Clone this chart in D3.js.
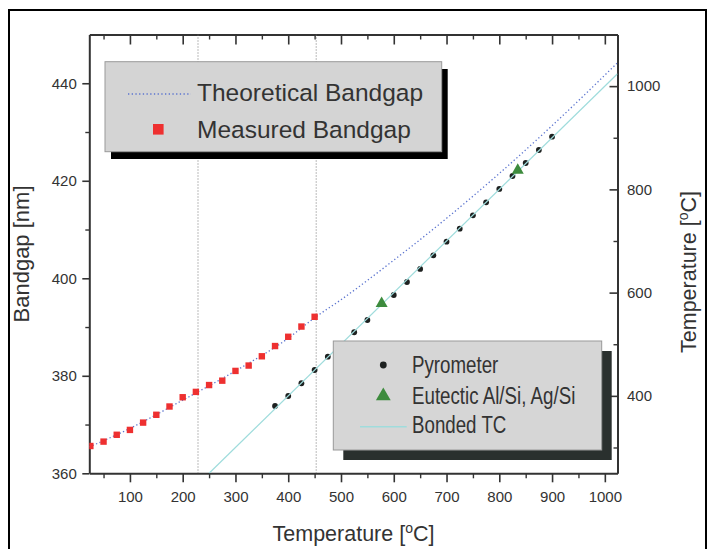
<!DOCTYPE html>
<html><head><meta charset="utf-8">
<script src="https://cdn.jsdelivr.net/npm/d3@7/dist/d3.min.js"></script>
<style>
html,body{margin:0;padding:0;background:#fff;}
svg{display:block;font-family:"Liberation Sans",Arial,Helvetica,sans-serif;}
</style></head><body>
<svg id="chart" width="711" height="549"></svg>
<script>
// ---------- data ----------
const measuredTemps = [25, 50, 75, 100, 125, 150, 175, 200, 225, 250, 275, 300, 325, 350, 375, 400, 425, 450];
const measuredBandgap = [365.6, 366.5, 367.9, 368.9, 370.4, 372.0, 373.7, 375.6, 376.7, 378.1, 379.0, 381.0, 382.1, 384.0, 386.1, 388.0, 390.1, 392.1];

const theoryTemps = [23, 100, 200, 300, 400, 450, 500, 600, 700, 800, 900, 1024];
const theoryBandgap = [365.4, 369.2, 375.0, 381.0, 387.7, 391.9, 395.6, 403.7, 412.3, 421.5, 431.3, 444.2];

const pyroTemps = [375, 400, 425, 450, 475, 500, 525, 550, 600, 625, 650, 675, 700, 725, 750, 775, 800, 825, 850, 875, 900];
const pyroValues = [380.4, 399.7, 424.4, 450.1, 475.9, 500.0, 523.2, 547.0, 595.4, 620.6, 645.8, 672.3, 698.7, 723.9, 749.8, 775.0, 800.8, 825.9, 851.1, 876.3, 902.1];

const eutecticTemps = [577, 835];
const eutecticValues = [579, 837];

const tcTemps = [250, 1024];
const tcValues = [250, 1024];

const markerTemps = [229, 453];

const xTicks = [100, 200, 300, 400, 500, 600, 700, 800, 900, 1000];
const xMinorTicks = [50, 150, 250, 350, 450, 550, 650, 750, 850, 950];
const yLeftTicks = [360, 380, 400, 420, 440];
const yLeftMinor = [370, 390, 410, 430];
const yRightTicks = [400, 600, 800, 1000];
const yRightMinor = [300, 500, 700, 900];

const legend1Labels = ["Theoretical Bandgap", "Measured Bandgap"];
const legend2Labels = ["Pyrometer", "Eutectic Al/Si, Ag/Si", "Bonded TC"];

// ---------- layout ----------
const L = 89.3, R = 617.5, T = 34.5, B = 473.3;
const txt = "#333";
const svg = d3.select("#chart");

svg.append("rect").attr("x", 9).attr("y", 10).attr("width", 697).attr("height", 590)
  .attr("fill", "#fff").attr("stroke", "#000").attr("stroke-width", 2);

const x = d3.scaleLinear().domain([23, 1024]).range([L, R]);
const yL = d3.scaleLinear().domain([360, 450]).range([B, T]);
const yR = d3.scaleLinear().domain([250, 1100]).range([B, T]);

svg.append("defs").append("clipPath").attr("id", "clip")
  .append("rect").attr("x", L).attr("y", T).attr("width", R - L).attr("height", B - T);

function styleAxis(g) {
  g.select(".domain").attr("stroke", "#333").attr("stroke-width", 2);
  g.selectAll(".tick line").attr("stroke", "#333").attr("stroke-width", 1.6);
  g.selectAll(".tick text").attr("fill", txt).style("font-size", "15px")
    .style("font-family", '"Liberation Sans", Arial, sans-serif');
}
function minor(g) { g.select(".domain").remove(); g.selectAll(".tick line").attr("stroke", "#333").attr("stroke-width", 1.4); }

// bottom
svg.append("g").attr("transform", `translate(0,${B})`)
  .call(d3.axisBottom(x).tickValues(xTicks).tickSize(9).tickSizeOuter(0).tickPadding(9).tickFormat(d3.format("d")))
  .call(styleAxis);
svg.append("g").attr("transform", `translate(0,${B})`)
  .call(d3.axisBottom(x).tickValues(xMinorTicks).tickSize(5).tickFormat(""))
  .call(minor);
// top
svg.append("g").attr("transform", `translate(0,${T})`)
  .call(d3.axisTop(x).tickValues(xTicks).tickSizeInner(-10).tickSizeOuter(0).tickFormat(""))
  .call(styleAxis);
svg.append("g").attr("transform", `translate(0,${T})`)
  .call(d3.axisTop(x).tickValues(xMinorTicks).tickSizeInner(-5).tickSizeOuter(0).tickFormat(""))
  .call(minor);
// left
svg.append("g").attr("transform", `translate(${L},0)`)
  .call(d3.axisLeft(yL).tickValues(yLeftTicks).tickSize(7).tickSizeOuter(0).tickPadding(5.5).tickFormat(d3.format("d")))
  .call(styleAxis);
svg.append("g").attr("transform", `translate(${L},0)`)
  .call(d3.axisLeft(yL).tickValues(yLeftMinor).tickSize(4).tickFormat(""))
  .call(minor);
// right
svg.append("g").attr("transform", `translate(${R},0)`)
  .call(d3.axisRight(yR).tickValues(yRightTicks).tickSizeInner(-8).tickSizeOuter(0).tickPadding(9.5).tickFormat(d3.format("d")))
  .call(styleAxis);
svg.append("g").attr("transform", `translate(${R},0)`)
  .call(d3.axisRight(yR).tickValues(yRightMinor).tickSizeInner(-4).tickSizeOuter(0).tickFormat(""))
  .call(minor);

// axis titles
function tempTitle(sel) {
  sel.append("tspan").text("Temperature [");
  sel.append("tspan").attr("dy", -8).style("font-size", "14px").text("o");
  sel.append("tspan").attr("dy", 8).text("C]");
}
svg.append("text").attr("x", 353.5).attr("y", 541).attr("text-anchor", "middle")
  .attr("fill", txt).style("font-size", "21.5px").call(tempTitle);
svg.append("text").attr("transform", "translate(696,272) rotate(-90)").attr("text-anchor", "middle")
  .attr("fill", txt).style("font-size", "21.5px").call(tempTitle);
svg.append("text").attr("transform", "translate(29,254) rotate(-90)").attr("text-anchor", "middle")
  .attr("fill", txt).style("font-size", "22px").text("Bandgap [nm]");

// ---------- plot content ----------
const plot = svg.append("g").attr("clip-path", "url(#clip)");

plot.selectAll("line.vmark").data(markerTemps).join("line").attr("class", "vmark")
  .attr("x1", d => x(d)).attr("x2", d => x(d)).attr("y1", T).attr("y2", B)
  .attr("stroke", "#777").attr("stroke-width", 1).attr("stroke-dasharray", "1,2");

const theory = theoryTemps.map((t, i) => [t, theoryBandgap[i]]);
plot.append("path").datum(theory)
  .attr("d", d3.line().x(d => x(d[0])).y(d => yL(d[1])).curve(d3.curveMonotoneX))
  .attr("fill", "none").attr("stroke", "#5b74cf").attr("stroke-width", 1.3).attr("stroke-dasharray", "1.3,2.4");

plot.selectAll("rect.meas").data(measuredTemps).join("rect").attr("class", "meas")
  .attr("x", d => x(d) - 3.2).attr("y", (d, i) => yL(measuredBandgap[i]) - 3.2)
  .attr("width", 6.4).attr("height", 6.4).attr("fill", "#ee3030");

plot.selectAll("circle.pyro").data(pyroTemps).join("circle").attr("class", "pyro")
  .attr("cx", d => x(d)).attr("cy", (d, i) => yR(pyroValues[i])).attr("r", 2.9).attr("fill", "#1e2120");

const tc = tcTemps.map((t, i) => [t, tcValues[i]]);
plot.append("path").datum(tc)
  .attr("d", d3.line().x(d => x(d[0])).y(d => yR(d[1])))
  .attr("fill", "none").attr("stroke", "#9fdcdc").attr("stroke-width", 1.2);

const tri = d3.symbol().type(d3.symbolTriangle).size(62);
plot.selectAll("path.eut").data(eutecticTemps).join("path").attr("class", "eut")
  .attr("d", tri).attr("transform", (d, i) => `translate(${x(d)},${yR(eutecticValues[i])})`)
  .attr("fill", "#3d8b3d");

// ---------- legend 1 ----------
const lg1 = svg.append("g");
lg1.append("rect").attr("x", 111).attr("y", 69).attr("width", 336.7).attr("height", 90).attr("fill", "#000");
lg1.append("rect").attr("x", 105).attr("y", 61.7).attr("width", 336.7).attr("height", 90)
  .attr("fill", "#d4d4d4").attr("stroke", "#9a9a9a").attr("stroke-width", 1);
lg1.append("line").attr("x1", 128).attr("x2", 191).attr("y1", 94).attr("y2", 94)
  .attr("stroke", "#5b74cf").attr("stroke-width", 1.4).attr("stroke-dasharray", "1.3,2.4");
lg1.append("rect").attr("x", 153).attr("y", 124).attr("width", 10.6).attr("height", 10.6).attr("fill", "#ee3030");
lg1.selectAll("text").data(legend1Labels).join("text")
  .attr("x", 197).attr("y", (d, i) => [100.5, 137.8][i]).attr("fill", txt)
  .style("font-size", "24.5px").text(d => d);

// ---------- legend 2 ----------
const lg2 = svg.append("g");
lg2.append("rect").attr("x", 343.3).attr("y", 351).attr("width", 268.4).attr("height", 109).attr("fill", "#2a302e");
lg2.append("rect").attr("x", 333.3).attr("y", 341).attr("width", 268.4).attr("height", 109)
  .attr("fill", "#d6d6d6").attr("stroke", "#999").attr("stroke-width", 1);
lg2.append("circle").attr("cx", 383.3).attr("cy", 365).attr("r", 3.4).attr("fill", "#1e2120");
lg2.append("path").attr("d", d3.symbol().type(d3.symbolTriangle).size(95)).attr("transform", "translate(383.3,396)").attr("fill", "#3d8b3d");
lg2.append("line").attr("x1", 360).attr("x2", 406.7).attr("y1", 426.7).attr("y2", 426.7)
  .attr("stroke", "#9fdcdc").attr("stroke-width", 1.6);
lg2.selectAll("text").data(legend2Labels).join("text")
  .attr("transform", (d, i) => `translate(412,${[373.3, 404, 433.3][i]}) scale(0.78,1)`)
  .attr("fill", txt).style("font-size", "24px").text(d => d);
</script></body></html>
